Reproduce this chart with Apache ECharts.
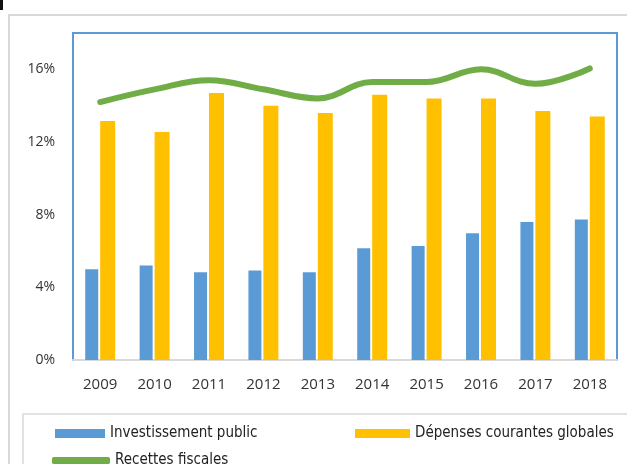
<!DOCTYPE html>
<html lang="fr">
<head>
<meta charset="UTF-8">
<title>Chart</title>
<style>
  html, body { margin: 0; padding: 0; background: #fff; }
  #main { width: 627px; height: 464px; }
</style>
</head>
<body>
<div id="main"></div>
<script src="https://cdn.jsdelivr.net/npm/echarts@6/dist/echarts.min.js"></script>
<script>
  var years = ["2009", "2010", "2011", "2012", "2013", "2014", "2015", "2016", "2017", "2018"];
  var investissement = [5.0, 5.2, 4.83, 4.93, 4.83, 6.15, 6.28, 6.98, 7.6, 7.74];
  var depenses = [13.15, 12.55, 14.7, 14.0, 13.6, 14.6, 14.4, 14.4, 13.7, 13.4];
  var recettes = [14.2, 14.9, 15.4, 14.9, 14.4, 15.3, 15.3, 16.0, 15.2, 16.05];
  var yTicks = [0, 4, 8, 12, 16];

  var legendFont = { fontFamily: "'DejaVu Sans Condensed', 'Liberation Sans Narrow', sans-serif", fontSize: 15, color: "#222" };

  var myChart = echarts.init(document.getElementById("main"));
  var option = {
    animation: false,
    graphic: [
      { type: "rect", shape: { x: 0, y: 0, width: 3, height: 10 }, style: { fill: "#111" } },
      { type: "rect", shape: { x: 9, y: 15, width: 640, height: 470 }, style: { fill: "none", stroke: "#d9d9d9", lineWidth: 2 } },
      { type: "rect", shape: { x: 23, y: 414, width: 620, height: 60 }, style: { fill: "none", stroke: "#d9d9d9", lineWidth: 1.5 } }
    ],
    grid: {
      left: 73, right: 10, top: 33, bottom: 104,
      show: true, borderColor: "#5b9bd5", borderWidth: 2
    },
    legend: [
      {
        left: 50, top: 421, itemWidth: 50, itemHeight: 9, itemGap: 6,
        icon: "rect", textStyle: legendFont, data: ["Investissement public"]
      },
      {
        left: 350, top: 421, itemWidth: 55, itemHeight: 9, itemGap: 4,
        icon: "rect", textStyle: legendFont, data: ["Dépenses courantes globales"]
      },
      {
        left: 47, top: 448, itemWidth: 58, itemHeight: 7, itemGap: 4,
        icon: "roundRect", textStyle: legendFont, data: ["Recettes fiscales"]
      }
    ],
    xAxis: {
      type: "category",
      data: years,
      axisLine: { lineStyle: { color: "#d9d9d9", width: 2 } },
      axisTick: { show: false },
      axisLabel: { color: "#333", fontFamily: "Open Sans", fontSize: 15, margin: 17 }
    },
    yAxis: {
      type: "value",
      min: 0, max: 18, interval: 4,
      axisLine: { show: false },
      axisTick: { show: false },
      splitLine: { show: false },
      axisLabel: {
        color: "#333", fontFamily: "Open Sans", fontSize: 14, margin: 18,
        formatter: function (v) { return yTicks.indexOf(v) >= 0 ? v + "%" : ""; }
      }
    },
    series: [
      {
        name: "Investissement public",
        type: "bar",
        data: investissement,
        barWidth: 13,
        barGap: "15%",
        itemStyle: { color: "#5b9bd5" }
      },
      {
        name: "Dépenses courantes globales",
        type: "bar",
        data: depenses,
        barWidth: 15,
        itemStyle: { color: "#ffc000" }
      },
      {
        name: "Recettes fiscales",
        type: "line",
        data: recettes,
        smooth: 0.4,
        showSymbol: false,
        symbol: "none",
        lineStyle: { color: "#70ad47", width: 6, cap: "round" },
        itemStyle: { color: "#70ad47" }
      }
    ]
  };
  myChart.setOption(option);
</script>
</body>
</html>
